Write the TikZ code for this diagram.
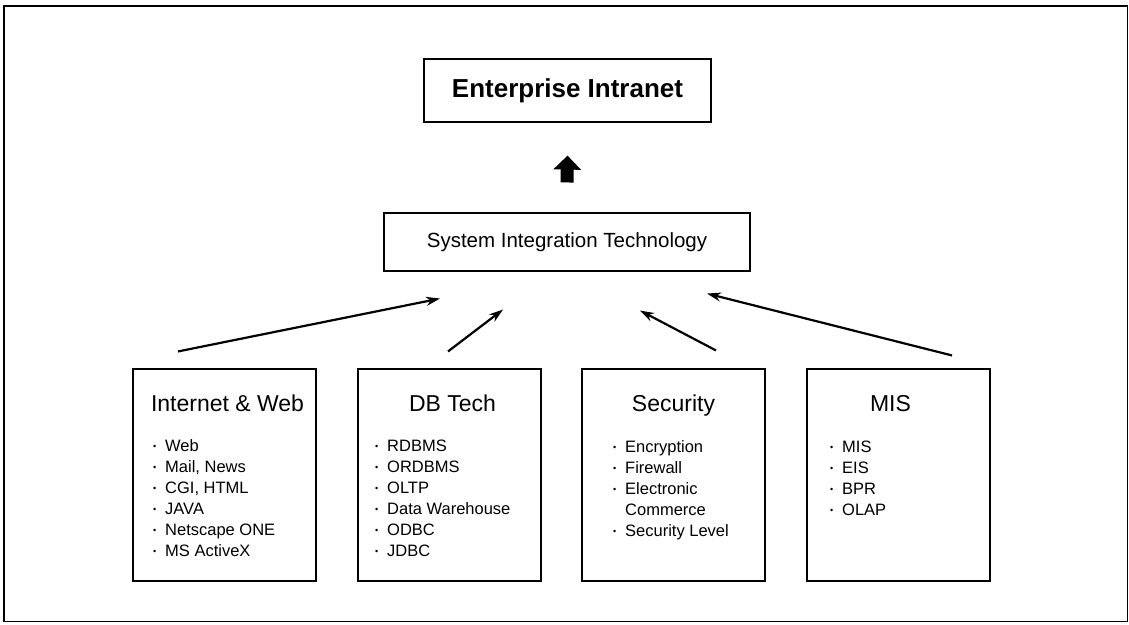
\documentclass[tikz,border=0pt]{standalone}
\usepackage{fontspec}
\setmainfont{Liberation Sans}
\usetikzlibrary{arrows.meta}

\newcommand{\dotitem}[1]{\makebox[12pt][l]{\raisebox{1.6pt}{\fontsize{9}{9}\selectfont •}}#1}

\begin{document}
\begin{tikzpicture}[x=1pt,y=-1pt,>={Stealth[length=14pt,width=9pt]},
    catbox/.style={draw,line width=1.1pt,minimum width=183pt,minimum height=212pt},
    cattitle/.style={anchor=base,font=\fontsize{23}{27}\selectfont},
    item/.style={anchor=base west,inner sep=0pt,font=\fontsize{16.5}{20}\selectfont},
    link/.style={->,line width=2.2pt}]
    \useasboundingbox (0,0) rectangle (1129,624);
    \draw[line width=1.3pt] (4,6) rectangle (1127.5,621.5);

    \node[draw,line width=1.2pt,minimum width=287pt,minimum height=63pt,
      font=\bfseries\fontsize{26}{30}\selectfont] (intranet) at (567.5,90.5) {Enterprise Intranet};
    \node[draw,line width=1.1pt,minimum width=366pt,minimum height=58pt,
      font=\fontsize{20.5}{24}\selectfont] (sit) at (567,242) {System Integration Technology};

    \node[catbox] (inet) at (224.5,475) {};
    \node[catbox] (dbtech) at (449.5,475) {};
    \node[catbox] (security) at (673.5,475) {};
    \node[catbox] (mis) at (898.5,475) {};

    \node[cattitle] (inet-t) at ([xshift=3pt,yshift=-43pt]inet.north) {Internet \& Web};
    \node[cattitle] (dbtech-t) at ([xshift=3pt,yshift=-43pt]dbtech.north) {DB Tech};
    \node[cattitle] (security-t) at ([yshift=-43pt]security.north) {Security};
    \node[cattitle] (mis-t) at ([xshift=-8pt,yshift=-43pt]mis.north) {MIS};

    \foreach \t [count=\i] in {Web, {Mail, News}, {CGI, HTML}, JAVA, Netscape ONE, MS ActiveX}
      \node[item] (inet-\i) at (153,430+21*\i) {\dotitem{\t}};
    \foreach \t [count=\i] in {RDBMS, ORDBMS, OLTP, Data Warehouse, ODBC, JDBC}
      \node[item] (dbtech-\i) at (375,430+21*\i) {\dotitem{\t}};
    \foreach \t [count=\i] in {Encryption, Firewall, Electronic}
      \node[item] (security-\i) at (613,431+21*\i) {\dotitem{\t}};
    \node[item] (security-4) at (613,515) {\hspace{12pt}Commerce};
    \node[item] (security-5) at (613,536) {\dotitem{Security Level}};
    \foreach \t [count=\i] in {MIS, EIS, BPR, OLAP}
      \node[item] (mis-\i) at (830,431+21*\i) {\dotitem{\t}};

    % connectors
    \draw[line width=13pt,-{Triangle[length=14pt,width=27pt]}]
      ([yshift=30pt]sit.north) -- ([yshift=-33pt]intranet.south);
    \draw[link] ([xshift=-46.5pt,yshift=17pt]inet.north) -- ([xshift=-127pt,yshift=-27pt]sit.south);
    \draw[link] ([xshift=-1.5pt,yshift=17pt]dbtech.north) -- ([xshift=-64pt,yshift=-38pt]sit.south);
    \draw[link] ([xshift=42.5pt,yshift=18pt]security.north) -- ([xshift=73pt,yshift=-39pt]sit.south);
    \draw[link] ([xshift=53.5pt,yshift=13pt]mis.north) -- ([xshift=140pt,yshift=-22pt]sit.south);
\end{tikzpicture}
\end{document}
